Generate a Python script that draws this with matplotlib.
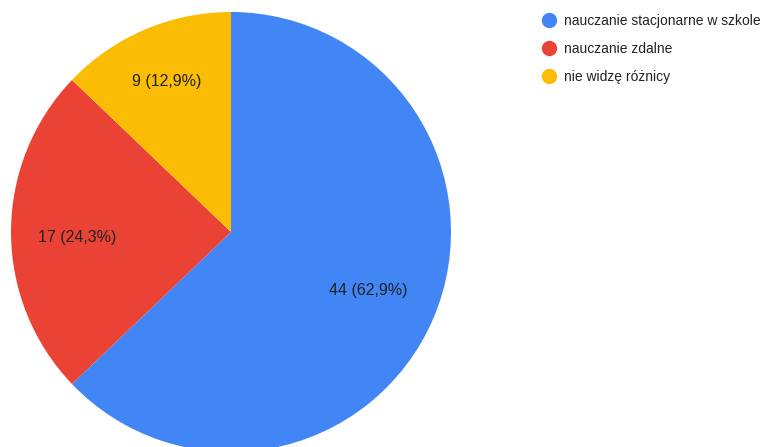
import matplotlib.pyplot as plt
from matplotlib.lines import Line2D

labels = ['nauczanie stacjonarne w szkole', 'nauczanie zdalne', 'nie widzę różnicy']
counts = [44, 17, 9]
colors = ['#4285F4', '#EA4335', '#FBBC04']

plt.rcParams['font.family'] = ['Liberation Sans', 'DejaVu Sans']

W, H = 766, 447
fig = plt.figure(figsize=(W / 100, H / 100), dpi=100)

# pie centre at (231, 232) px from top-left, radius ~220 px
cx, cy, r = 231, 232, 220
ax = fig.add_axes([(cx - r) / W, (H - cy - r) / H, 2 * r / W, 2 * r / H])

total = sum(counts)


def fmt(pct):
    n = int(round(pct * total / 100))
    return f'{n} ({pct:.1f}%)'.replace('.', ',')


wedges, texts, autotexts = ax.pie(counts, colors=colors, startangle=90, counterclock=False,
                                  autopct=fmt, pctdistance=1.0, radius=1,
                                  wedgeprops=dict(linewidth=0),
                                  textprops=dict(fontsize=11.5, color='#222222'))
# google places the labels at slightly different distances
for t, d in zip(autotexts, [0.68, 0.70, 0.745]):
    x, y = t.get_position()
    t.set_position((x * d, y * d - (0.025 if d == 0.70 else 0)))

ax.set_xlim(-1, 1)
ax.set_ylim(-1, 1)
ax.axis('off')

handles = [Line2D([], [], marker='o', linestyle='', markersize=10, markerfacecolor=c,
                  markeredgecolor=c) for c in colors]
fig.legend(handles, labels, loc='upper left', bbox_to_anchor=(535 / W, 1 - 8 / H),
           frameon=False, fontsize=10, handletextpad=0.5, labelspacing=1.03,
           handlelength=1.2, borderaxespad=0, labelcolor='#222222')

fig.savefig('out.png', dpi=100)
